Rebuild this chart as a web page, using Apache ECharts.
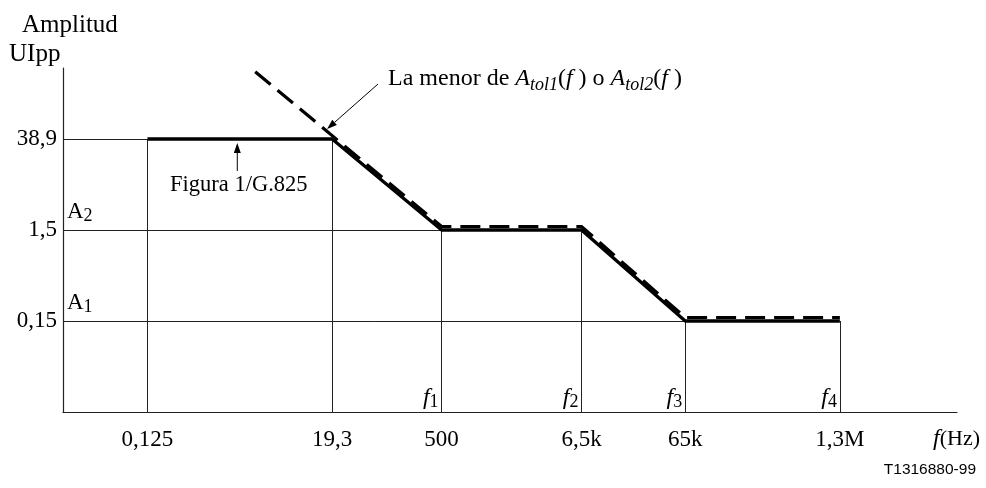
<!DOCTYPE html>
<html><head><meta charset="utf-8">
<script src="https://cdn.jsdelivr.net/npm/echarts@6/dist/echarts.min.js"></script>
<style>html,body{margin:0;padding:0;background:#fff}#c{width:986px;height:488px}</style>
</head><body><div id="c"></div>
<script>
// ---- data (schematic diagram: frequency axis is not to scale) ----
const freqLabels = ['0,125', '19,3', '500', '6,5k', '65k', '1,3M'];
const freqPos    = [9.45, 30.1, 42.35, 58.0, 69.6, 86.9];      // position of each break frequency along the axis (0–100)
const freqNames  = ['', '', '1', '2', '3', '4'];                // f subscripts
const maskLevel  = [3, 3, 2, 2, 1, 1];                          // amplitude level of the G.825 mask at each frequency
const ampLabels  = ['', '0,15', '1,5', '38,9'];                 // tick label of each amplitude level
const ampNames   = ['', '1', '2', ''];                          // A subscripts
const atolPos    = [21.5, 42.35, 58.0, 69.6, 86.9];             // "La menor de Atol1(f) o Atol2(f)" curve
const atolLevel  = [3.70, 2, 2, 1, 1];

const SERIF = "'Liberation Serif','Times New Roman',serif";
const FS = 23;

// thin construction lines
const guide = [];
freqPos.forEach((x, i) => guide.push({coords: [[x, 0], [x, maskLevel[i]]]}));
[1, 2, 3].forEach(L => guide.push({coords: [[0, L], [freqPos[maskLevel.indexOf(L)], L]]}));

const chart = echarts.init(document.getElementById('c'), null, {renderer: 'canvas'});
chart.setOption({
  animation: false,
  backgroundColor: '#fff',
  grid: {left: 63, top: 68, right: 29, bottom: 76, containLabel: false},
  xAxis: {
    type: 'value', min: 0, max: 100,
    axisLine: {show: true, onZero: false, lineStyle: {color: '#222', width: 1.2}},
    axisTick: {show: false}, splitLine: {show: false},
    axisLabel: {
      customValues: freqPos, margin: 16, color: '#000', fontFamily: SERIF, fontSize: FS,
      formatter: v => { const i = freqPos.indexOf(v); return i >= 0 ? freqLabels[i] : ''; }
    }
  },
  yAxis: {
    type: 'value', min: 0, max: 3.78, interval: 1,
    axisLine: {show: true, onZero: false, lineStyle: {color: '#222', width: 1.2}},
    axisTick: {show: false}, splitLine: {show: false},
    axisLabel: {
      margin: 6, color: '#000', fontFamily: SERIF, fontSize: FS,
      showMaxLabel: false,
      formatter: v => (Number.isInteger(v) && ampLabels[v]) ? ampLabels[v] : ''
    }
  },
  series: [
    {
      type: 'lines', coordinateSystem: 'cartesian2d', z: 1, silent: true,
      lineStyle: {color: '#222', width: 1, opacity: 1},
      data: guide
    },
    {
      type: 'line', z: 3, silent: true, symbol: 'none',
      lineStyle: {color: '#000', width: 3.3},
      data: freqPos.map((x, i) => [x, maskLevel[i]])
    },
    {
      type: 'custom', z: 4, silent: true,
      data: atolPos.map((x, i) => [x, atolLevel[i]]),
      renderItem: (params, api) => {
        if (params.dataIndex !== 0) return null;
        const pts = atolPos.map((x, i) => { const p = api.coord([x, atolLevel[i]]); return [p[0], p[1] - 3.5]; });
        return {type: 'polyline', shape: {points: pts},
                style: {stroke: '#000', lineWidth: 3.2, fill: null, lineDash: [20, 9]}};
      }
    }
  ]
});

function px(x, y) { return chart.convertToPixel({gridIndex: 0}, [x, y]); }
function arrow(x1, y1, x2, y2) {
  const dx = x2 - x1, dy = y2 - y1, L = Math.hypot(dx, dy), ux = dx / L, uy = dy / L;
  const hl = 10, hw = 3.5;
  const bx = x2 - ux * hl, by = y2 - uy * hl;
  return [
    {type: 'line', silent: true, shape: {x1, y1, x2: bx, y2: by}, style: {stroke: '#000', lineWidth: 1}},
    {type: 'polygon', silent: true, shape: {points: [[x2, y2], [bx - uy * hw, by + ux * hw], [bx + uy * hw, by - ux * hw]]}, style: {fill: '#000'}}
  ];
}
const subRich = (main, sub, mainItalic) => ({
  m: {fontFamily: SERIF, fontSize: main, fontStyle: mainItalic ? 'italic' : 'normal', lineHeight: 26, fill: '#000'},
  s: {fontFamily: SERIF, fontSize: sub, lineHeight: 10, verticalAlign: 'bottom', fill: '#000'}
});

const g = [];
g.push({type: 'text', x: 22, y: 25, silent: true, style: {text: 'Amplitud', font: `25px ${SERIF}`, fill: '#000', verticalAlign: 'middle'}});
g.push({type: 'text', x: 9, y: 54, silent: true, style: {text: 'UIpp', font: `25px ${SERIF}`, fill: '#000', verticalAlign: 'middle'}});
// A_n labels
[1, 2].forEach(L => {
  const p = px(0, L);
  g.push({type: 'text', x: p[0] + 4, y: p[1] - 5, silent: true,
    style: {text: `{m|A}{s|${ampNames[L]}}`, rich: subRich(23, 18, false), verticalAlign: 'bottom', align: 'left'}});
});
// f_n labels
freqPos.forEach((x, i) => {
  if (!freqNames[i]) return;
  const p = px(x, 0);
  g.push({type: 'text', x: p[0] - 3, y: p[1] - 1, silent: true,
    style: {text: `{m|f}{s|${freqNames[i]}}`, rich: subRich(24, 18, true), verticalAlign: 'bottom', align: 'right'}});
});
// axis name f(Hz)
const axEnd = px(100, 0);
g.push({type: 'text', x: 980, y: axEnd[1] + 27, silent: true,
  style: {text: '{i|f}{n|(Hz)}', align: 'right', verticalAlign: 'middle',
    rich: {i: {fontFamily: SERIF, fontSize: 24, fontStyle: 'italic', fill: '#000'}, n: {fontFamily: SERIF, fontSize: 22, fill: '#000'}}}});
// annotation for dashed curve
const corner = px(freqPos[1], maskLevel[1]);
g.push({type: 'text', x: 388, y: 79, silent: true,
  style: {
    text: '{n|La menor de }{i|A}{s|tol1}{n|(}{i|f}{n| ) o }{i|A}{s|tol2}{n|(}{i|f}{n| )}',
    verticalAlign: 'middle', align: 'left',
    rich: {
      n: {fontFamily: SERIF, fontSize: 24, lineHeight: 30, fill: '#000'},
      i: {fontFamily: SERIF, fontSize: 24, fontStyle: 'italic', lineHeight: 30, fill: '#000'},
      s: {fontFamily: SERIF, fontSize: 18, fontStyle: 'italic', lineHeight: 10, verticalAlign: 'bottom', fill: '#000'}
    }
  }});
arrow(378, 84, corner[0] - 5, corner[1] - 10).forEach(e => g.push(e));
// label for mask
const mid = px((freqPos[0] + freqPos[1]) / 2, maskLevel[0]);
g.push({type: 'text', x: mid[0] - 1, y: mid[1] + 46, silent: true,
  style: {text: 'Figura 1/G.825', font: `22.5px ${SERIF}`, fill: '#000', align: 'center', verticalAlign: 'middle'}});
arrow(mid[0] - 2.5, mid[1] + 32, mid[0] - 2.5, mid[1] + 4).forEach(e => g.push(e));
// figure id
g.push({type: 'text', x: 976, y: 470, silent: true,
  style: {text: 'T1316880-99', font: "15.5px 'Liberation Sans',Arial,sans-serif", fill: '#000', align: 'right', verticalAlign: 'middle'}});

chart.setOption({graphic: g});
</script></body></html>
